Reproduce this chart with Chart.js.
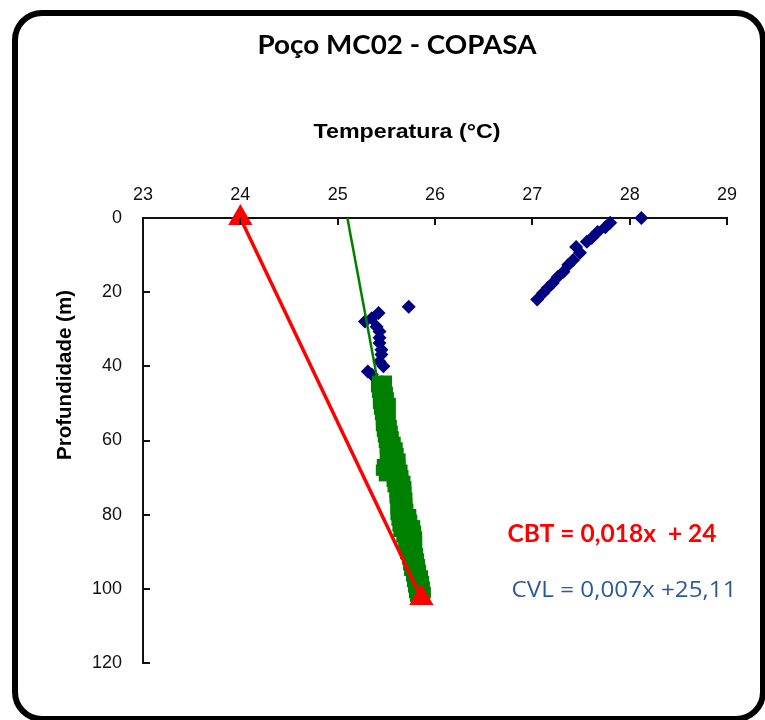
<!DOCTYPE html>
<html>
<head>
<meta charset="utf-8">
<title>Poço MC02 - COPASA</title>
<script src="https://cdn.jsdelivr.net/npm/chart.js@4.4.1/dist/chart.umd.min.js"></script>
<style>
    html, body { margin: 0; padding: 0; background: #fff; }
    #wrap { position: relative; width: 765px; height: 720px; overflow: hidden; }
    #frame {
        position: absolute; left: 12px; top: 10px; width: 754px; height: 712px;
        box-sizing: border-box; border: 6px solid #000; border-radius: 30px; pointer-events: none;
    }
    canvas { display: block; }
</style>
</head>
<body>
<div id="wrap">
    <canvas id="chart" width="765" height="720"></canvas>
    <div id="frame"></div>
</div>
<script>
const chartTitle = 'Poço MC02 - COPASA';
const xTitle = 'Temperatura (°C)';
const yTitle = 'Profundidade (m)';
const cbtText = 'CBT = 0,018x  + 24';
const cvlText = 'CVL = 0,007x +25,11';

// measured profile, upper part (diamonds)
const profileDepth = [0, 1.3, 2.5, 3.8, 5.4, 6.4, 7.8, 9.4, 11.3, 12.6, 14.5, 15.9, 17.5, 18.8, 20.2, 22,
    23.9, 25.6, 27, 27.9, 29.3, 30.6, 32.3, 33.7, 35.5, 36.8, 38.7, 40, 41.4, 42.2];
const profileTemp = [28.12, 27.8, 27.75, 27.67, 27.61, 27.56, 27.45, 27.49, 27.42, 27.37, 27.32, 27.26, 27.21, 27.16, 27.11, 27.05,
    25.73, 25.42, 25.35, 25.28, 25.40, 25.43, 25.43, 25.43, 25.45, 25.45, 25.43, 25.47, 25.31, 25.35];

// measured profile, lower part (squares) - same depth listed once per reading
const cvlDepth = [
    44, 44, 45.5, 45.5, 47, 47, 48.5, 48.5, 50, 50, 50, 51.5, 51.5, 53, 53,
    54.5, 54.5, 56, 56, 57.5, 57.5, 59, 59, 60.5, 60.5, 60.5, 62, 62, 62,
    63.5, 63.5, 63.5, 65, 65, 65, 66.5, 66.5, 66.5, 68, 68, 68, 69.5, 69.5, 69.5,
    71, 71, 71, 72.5, 72.5, 72.5, 74, 74, 74, 75.5, 75.5, 75.5, 77, 77, 77,
    78.5, 78.5, 78.5, 80, 80, 80, 81.5, 81.5, 81.5, 83, 83, 83, 84.5, 84.5, 84.5,
    86, 86, 86, 87.5, 87.5, 87.5, 89, 89, 89, 90.5, 90.5, 90.5, 92, 92, 92,
    93.5, 93.5, 93.5, 95, 95, 95, 96.5, 96.5, 96.5, 98, 98, 98, 99.5, 99.5, 99.5,
    101, 101, 101, 102, 102
];
const cvlTemp = [
    25.41, 25.50, 25.40, 25.49, 25.41, 25.51, 25.42, 25.52, 25.42, 25.48, 25.54, 25.43, 25.53, 25.44, 25.54,
    25.45, 25.53, 25.45, 25.55, 25.46, 25.56, 25.47, 25.57, 25.48, 25.54, 25.59, 25.49, 25.55, 25.61,
    25.49, 25.56, 25.62, 25.50, 25.57, 25.64, 25.46, 25.55, 25.64, 25.45, 25.56, 25.66, 25.48, 25.58, 25.67,
    25.56, 25.63, 25.69, 25.57, 25.64, 25.70, 25.59, 25.65, 25.70, 25.59, 25.65, 25.71, 25.60, 25.66, 25.71,
    25.60, 25.66, 25.72, 25.60, 25.68, 25.75, 25.61, 25.69, 25.76, 25.62, 25.71, 25.79, 25.63, 25.72, 25.80,
    25.66, 25.74, 25.81, 25.68, 25.75, 25.81, 25.69, 25.76, 25.81, 25.70, 25.76, 25.82, 25.72, 25.78, 25.83,
    25.73, 25.79, 25.84, 25.74, 25.80, 25.85, 25.76, 25.82, 25.87, 25.77, 25.83, 25.88, 25.78, 25.84, 25.89,
    25.79, 25.85, 25.90, 25.80, 25.89
];

// fitted lines
const cvlLineDepth = [0, 102];
const cvlLineTemp = [25.10, 25.82];
const cbtDepth = [0, 102.5];
const cbtTemp = [24, 25.86];

const xTicks = [23, 24, 25, 26, 27, 28, 29];
const yTicks = [0, 20, 40, 60, 80, 100, 120];

function toPoints(temps, depths) {
    return temps.map((t, i) => ({ x: t, y: depths[i] }));
}

// draw a text centred on (cx, cy), squeezed/stretched to a given width
function drawText(ctx, text, cx, cy, font, color, width) {
    ctx.save();
    ctx.font = font;
    ctx.fillStyle = color;
    ctx.textAlign = 'center';
    ctx.textBaseline = 'middle';
    const w = ctx.measureText(text).width;
    ctx.translate(cx, cy);
    ctx.scale(width / w, 1);
    ctx.fillText(text, 0, 0);
    ctx.restore();
}

const insideTicks = {
    id: 'insideTicks',
    afterDraw(chart) {
        const ctx = chart.ctx;
        const { x, y } = chart.scales;
        const area = chart.chartArea;
        ctx.save();
        ctx.strokeStyle = '#111';
        ctx.lineWidth = 2;
        ctx.beginPath();
        xTicks.forEach(v => {
            const px = Math.round(x.getPixelForValue(v));
            ctx.moveTo(px, area.top);
            ctx.lineTo(px, area.top + 7);
        });
        yTicks.forEach(v => {
            const py = Math.round(y.getPixelForValue(v));
            ctx.moveTo(area.left, py);
            ctx.lineTo(area.left + 7, py);
        });
        ctx.stroke();
        ctx.restore();
    }
};

const texts = {
    id: 'texts',
    afterDraw(chart) {
        const ctx = chart.ctx;
        drawText(ctx, chartTitle, 397, 45, 'bold 27px Lato', '#000', 279);
        drawText(ctx, xTitle, 407, 132, 'bold 21px "Liberation Sans"', '#000', 187);
        ctx.save();
        ctx.translate(65, 375);
        ctx.rotate(-Math.PI / 2);
        drawText(ctx, yTitle, 0, 0, 'bold 21px "Liberation Sans"', '#000', 170);
        ctx.restore();
        drawText(ctx, cbtText, 612, 534, 'bold 24px Lato', '#ff0000', 209);
        drawText(ctx, cvlText, 624, 591, '21px "Open Sans"', '#2b5a98', 225);
    }
};

const ctx = document.getElementById('chart').getContext('2d');
new Chart(ctx, {
    type: 'scatter',
    data: {
        datasets: [
            {
                label: 'CBT',
                data: toPoints(cbtTemp, cbtDepth),
                showLine: true,
                clip: false,
                borderColor: '#ff0000',
                backgroundColor: '#ff0000',
                borderWidth: 3.5,
                pointStyle: 'triangle',
                pointRadius: 14,
                pointBorderWidth: 0
            },
            {
                label: 'Perfil 44-102 m',
                data: toPoints(cvlTemp, cvlDepth),
                clip: false,
                backgroundColor: '#008000',
                borderColor: '#008000',
                pointStyle: 'rect',
                pointRadius: 8,
                pointBorderWidth: 0
            },
            {
                label: 'CVL',
                data: toPoints(cvlLineTemp, cvlLineDepth),
                showLine: true,
                clip: false,
                borderColor: '#008000',
                borderWidth: 2.5,
                pointRadius: 0
            },
            {
                label: 'Perfil 0-42 m',
                data: toPoints(profileTemp, profileDepth),
                clip: false,
                backgroundColor: '#000080',
                borderColor: '#000080',
                pointStyle: 'rectRot',
                pointRadius: 7,
                pointBorderWidth: 0
            }
        ]
    },
    options: {
        responsive: false,
        animation: false,
        layout: { padding: { left: 0, top: 0, right: 38, bottom: 57 } },
        plugins: {
            legend: { display: false },
            tooltip: { enabled: false },
            title: { display: false }
        },
        scales: {
            x: {
                type: 'linear',
                position: 'top',
                min: 23,
                max: 29,
                afterFit: s => { s.height = 218; },
                afterBuildTicks: s => { s.ticks = xTicks.map(v => ({ value: v })); },
                ticks: { padding: 12, color: '#111', font: { family: 'Liberation Sans', size: 18 } },
                grid: { drawOnChartArea: false, drawTicks: false },
                border: { display: true, color: '#111', width: 2 }
            },
            y: {
                type: 'linear',
                position: 'left',
                reverse: true,
                min: 0,
                max: 120,
                afterFit: s => { s.width = 143; },
                afterBuildTicks: s => { s.ticks = yTicks.map(v => ({ value: v })); },
                ticks: { padding: 21, color: '#111', font: { family: 'Liberation Sans', size: 18 } },
                grid: { drawOnChartArea: false, drawTicks: false },
                border: { display: true, color: '#111', width: 2 }
            }
        }
    },
    plugins: [insideTicks, texts]
});
</script>
</body>
</html>
